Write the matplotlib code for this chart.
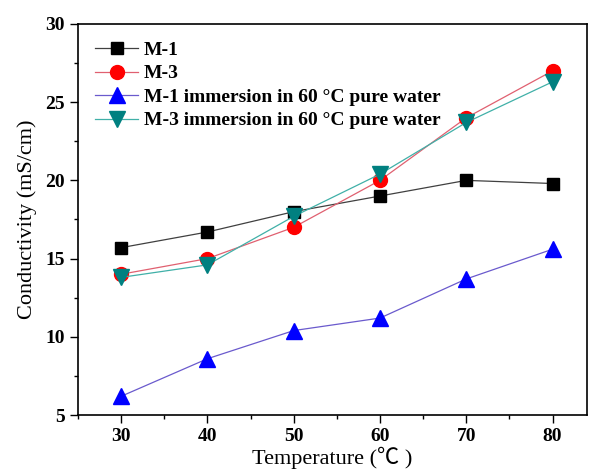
import matplotlib
matplotlib.use("Agg")
import matplotlib.pyplot as plt
from matplotlib.ticker import MultipleLocator

plt.rcParams['font.family'] = ['Liberation Serif', 'Noto Sans CJK SC', 'DejaVu Serif']

# data
temps = [30, 40, 50, 60, 70, 80]
m1 = [15.7, 16.7, 18.0, 19.0, 20.0, 19.8]
m3 = [14.0, 15.0, 17.0, 20.0, 24.0, 27.0]
m1_imm = [6.2, 8.6, 10.4, 11.2, 13.7, 15.6]
m3_imm = [13.8, 14.6, 17.7, 20.4, 23.7, 26.3]

labels = ['M-1', 'M-3',
          'M-1 immersion in 60 \u00b0C pure water',
          'M-3 immersion in 60 \u00b0C pure water']

fig = plt.figure(figsize=(5.93, 4.69), dpi=100)
ax = fig.add_axes([0.1315, 0.115, 0.8585, 0.834])

ax.plot(temps, m1, color='#404040', lw=0.9, marker='s', ms=9,
        mfc='black', mec='black', label=labels[0])
ax.plot(temps, m3, color='#e06070', lw=0.9, marker='o', ms=10,
        mfc='red', mec='red', label=labels[1])
ax.plot(temps, m1_imm, color='#6a5acd', lw=0.9, marker='^', ms=11,
        mfc='blue', mec='blue', label=labels[2])
ax.plot(temps, m3_imm, color='#40b0a8', lw=0.9, marker='v', ms=11,
        mfc='#008080', mec='#008080', label=labels[3])

ax.set_xlim(25, 84)
ax.set_ylim(5, 30)
ax.xaxis.set_major_locator(MultipleLocator(10))
ax.xaxis.set_minor_locator(MultipleLocator(5))
ax.yaxis.set_major_locator(MultipleLocator(5))
ax.yaxis.set_minor_locator(MultipleLocator(2.5))
ax.tick_params(which='major', direction='out', length=6, width=1,
               labelsize=14, top=False, right=False)
ax.tick_params(which='minor', direction='out', length=3, width=1,
               top=False, right=False)
for lab in ax.get_xticklabels() + ax.get_yticklabels():
    lab.set_fontweight('bold')
for sp in ax.spines.values():
    sp.set_linewidth(1.2)

ax.set_xlabel('Temperature (\u2103 )', fontsize=16, labelpad=1)
ax.set_ylabel('Conductivity (mS/cm)', fontsize=16, labelpad=6)

leg = ax.legend(loc='upper left', frameon=False,
                prop={'size': 14, 'weight': 'bold'},
                handlelength=2.2, handletextpad=0.3, labelspacing=0.3,
                borderaxespad=0.5, borderpad=0.4)

fig.savefig('out.png', dpi=100)
